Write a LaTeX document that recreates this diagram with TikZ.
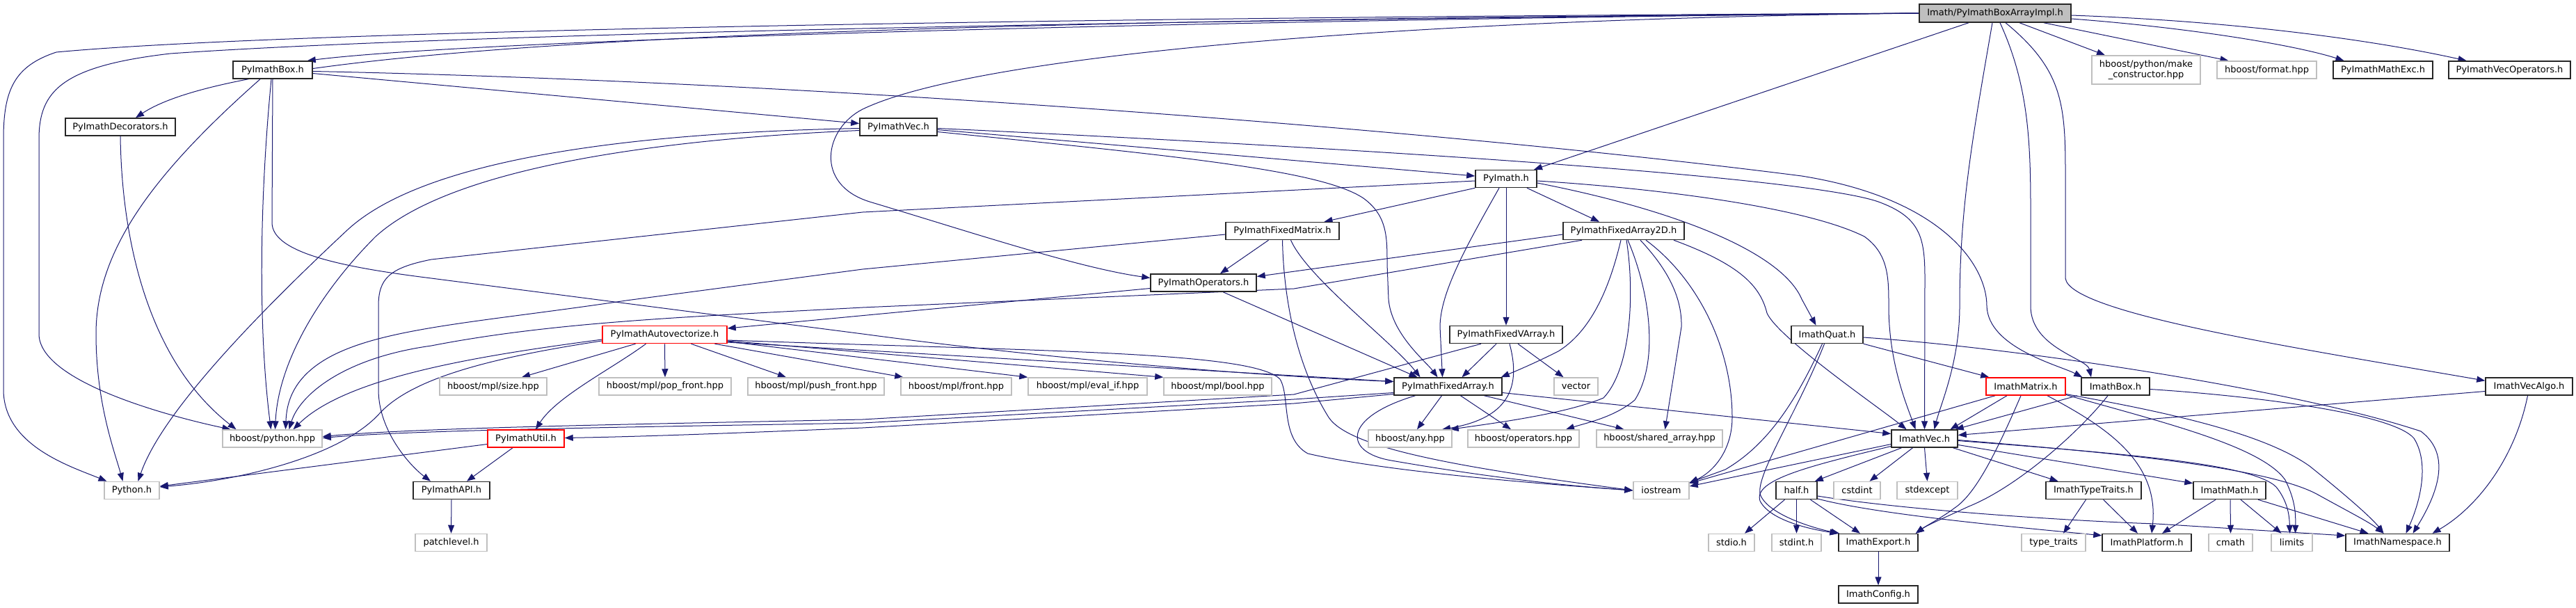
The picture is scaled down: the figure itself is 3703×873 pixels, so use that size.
\documentclass[tikz,border=0pt]{standalone}
\usepackage{fontspec}
\setmainfont{DejaVu Sans}
\usetikzlibrary{arrows.meta}
\definecolor{edgec}{HTML}{191970}
\definecolor{greyb}{HTML}{BFBFBF}
\newcommand\nodefont{\fontsize{13}{14.5}\selectfont}
\pgfdeclarelayer{bg}
\pgfsetlayers{bg,main}
\tikzset{
  nd/.style={rectangle, line width=1.5pt, minimum height=25pt, inner sep=0pt, fill=white, font=\nodefont, text=black},
  nb/.style={nd, draw=black!85},
  ng/.style={nd, draw=greyb},
  nr/.style={nd, draw=red},
  rt/.style={nd, draw=black!85, fill=greyb},
  dep/.style={draw=edgec, line width=1pt, -{Triangle[length=12pt,width=9pt]}},
}
\begin{document}
\begin{tikzpicture}[x=1pt,y=-1pt]
\useasboundingbox (0,0) rectangle (3703,873);
% row 0
\node[rt, minimum width=218pt, minimum height=26pt] (root) at (2868,19) {Imath/PyImathBoxArrayImpl.h};
% row 1
\node[nb, minimum width=114pt] (pbox) at (392,100.5) {PyImathBox.h};
\node[ng, minimum width=156pt, minimum height=41pt, align=center] (mkc) at (3085,100.5) {hboost/python/make\\\_constructor.hpp};
\node[ng, minimum width=143pt] (fmt) at (3258.5,100.5) {hboost/format.hpp};
\node[nb, minimum width=143pt] (mexc) at (3425.5,100.5) {PyImathMathExc.h};
\node[nb, minimum width=175pt] (vecop) at (3607.5,100.5) {PyImathVecOperators.h};
% row 2
\node[nb, minimum width=158pt] (deco) at (173,182.5) {PyImathDecorators.h};
\node[nb, minimum width=111pt] (pvec) at (1291.5,182.5) {PyImathVec.h};
% row 3
\node[nb, minimum width=88pt] (pyim) at (2165,257) {PyImath.h};
% row 4
\node[nb, minimum width=163pt] (fmat) at (1843.5,332) {PyImathFixedMatrix.h};
\node[nb, minimum width=174pt] (f2d) at (2334,332) {PyImathFixedArray2D.h};
% row 5
\node[nb, minimum width=152pt] (oper) at (1730,406.5) {PyImathOperators.h};
% row 6
\node[nr, minimum width=179pt] (auto) at (955.5,481) {PyImathAutovectorize.h};
\node[nb, minimum width=162pt] (fva) at (2165,481) {PyImathFixedVArray.h};
\node[nb, minimum width=103pt] (quat) at (2626.5,481) {ImathQuat.h};
% row 7
\node[ng, minimum width=154pt] (size) at (709,555.5) {hboost/mpl/size.hpp};
\node[ng, minimum width=190pt] (popf) at (956,555.5) {hboost/mpl/pop\_front.hpp};
\node[ng, minimum width=196pt] (pushf) at (1173,555.5) {hboost/mpl/push\_front.hpp};
\node[ng, minimum width=159pt] (front) at (1374.5,555.5) {hboost/mpl/front.hpp};
\node[ng, minimum width=171pt] (evalif) at (1563.5,555.5) {hboost/mpl/eval\_if.hpp};
\node[ng, minimum width=155pt] (bool) at (1750.5,555.5) {hboost/mpl/bool.hpp};
\node[nb, minimum width=155pt] (farr) at (2081.5,555.5) {PyImathFixedArray.h};
\node[ng, minimum width=63pt] (vector) at (2265.5,555.5) {vector};
\node[nr, minimum width=114pt] (imat) at (2912,555.5) {ImathMatrix.h};
\node[nb, minimum width=98pt] (ibox) at (3041,555.5) {ImathBox.h};
\node[nb, minimum width=125pt] (valgo) at (3635.5,555.5) {ImathVecAlgo.h};
% row 8
\node[ng, minimum width=143pt] (pyhpp) at (391.5,630.5) {hboost/python.hpp};
\node[nr, minimum width=110pt] (util) at (756,630.5) {PyImathUtil.h};
\node[ng, minimum width=120pt] (any) at (2027,630.5) {hboost/any.hpp};
\node[ng, minimum width=160pt] (ops) at (2190,630.5) {hboost/operators.hpp};
\node[ng, minimum width=181pt] (shar) at (2385.5,630.5) {hboost/shared\_array.hpp};
\node[nb, minimum width=95pt] (ivec) at (2766.5,630.5) {ImathVec.h};
% row 9
\node[ng, minimum width=79pt] (pyh) at (189.5,705) {Python.h};
\node[nb, minimum width=110pt] (api) at (649,705) {PyImathAPI.h};
\node[ng, minimum width=80pt] (iost) at (2388,705) {iostream};
\node[nb, minimum width=59pt] (half) at (2582.5,705) {half.h};
\node[ng, minimum width=67pt] (cstd) at (2669.5,705) {cstdint};
\node[ng, minimum width=87pt] (stdex) at (2770.5,705) {stdexcept};
\node[nb, minimum width=137pt] (ttr) at (3009.5,705) {ImathTypeTraits.h};
\node[nb, minimum width=104pt] (imath) at (3205,705) {ImathMath.h};
% row 10
\node[ng, minimum width=103pt] (patch) at (648.5,780) {patchlevel.h};
\node[ng, minimum width=66pt] (stdio) at (2489,780) {stdio.h};
\node[ng, minimum width=71pt] (stdint) at (2582.5,780) {stdint.h};
\node[nb, minimum width=114pt] (exp) at (2700,780) {ImathExport.h};
\node[ng, minimum width=92pt] (tt) at (2952,780) {type\_traits};
\node[nb, minimum width=128pt] (plat) at (3086,780) {ImathPlatform.h};
\node[ng, minimum width=63pt] (cmath) at (3206.5,780) {cmath};
\node[ng, minimum width=59pt] (limits) at (3294.5,780) {limits};
\node[nb, minimum width=149pt] (ns) at (3446.5,780) {ImathNamespace.h};
% row 11
\node[nb, minimum width=114pt] (conf) at (2700,854.5) {ImathConfig.h};

\begin{pgfonlayer}{bg}
% root
\draw[dep] (root.west) .. controls (1800,28) and (700,55) .. ([xshift=-8pt]pbox.north east);
\draw[dep] (root.west) .. controls (1200,30) and (360,60) .. ([xshift=22pt]deco.north);
\draw[dep] (root.west) .. controls (1500,30) and (600,52) .. (245,77) .. controls (90,95) and (56,130) .. (56,200) -- (56,480) .. controls (56,550) and (250,600) .. ([xshift=-60pt]pyhpp.north);
\draw[dep] (root.west) .. controls (1500,25) and (400,45) .. (81,75) .. controls (20,95) and (5,130) .. (5,200) -- (5,560) .. controls (5,640) and (100,670) .. ([xshift=-36pt]pyh.north);
\draw[dep] (root.west) .. controls (2000,28) and (1400,80) .. (1240,157) .. controls (1185,185) and (1170,265) .. (1250,290) .. controls (1400,335) and (1550,385) .. ([yshift=7pt]oper.west);
\draw[dep] ([xshift=-38pt]root.south) -- ([xshift=40pt]pyim.north);
\draw[dep] ([xshift=-4pt]root.south) .. controls (2835,200) and (2817,300) .. (2817,440) .. controls (2817,520) and (2790,580) .. ([xshift=14pt]ivec.north);
\draw[dep] ([xshift=7pt]root.south) .. controls (2915,120) and (2919,200) .. (2919,300) -- (2919,440) .. controls (2919,500) and (3000,515) .. ([xshift=-35pt]ibox.north);
\draw[dep] ([xshift=15pt]root.south) .. controls (2965,100) and (2969,150) .. (2969,250) -- (2969,400) .. controls (2975,450) and (3300,500) .. ([yshift=-5pt]valgo.north west);
\draw[dep] ([xshift=35pt]root.south) -- ([xshift=-59pt]mkc.north);
\draw[dep] ([xshift=70pt]root.south) -- ([xshift=-55pt]fmt.north);
\draw[dep] ([yshift=-8pt]root.east) .. controls (3150,40) and (3300,65) .. ([xshift=-56pt]mexc.north);
\draw[dep] ([yshift=-3pt]root.east) .. controls (3200,30) and (3400,55) .. ([xshift=-62pt]vecop.north);
% PyImathBox
\draw[dep] ([yshift=-5pt]pbox.east) -- ([yshift=5pt]pvec.west);
\draw[dep] ([yshift=-2pt]pbox.east) .. controls (1200,118) and (2100,190) .. (2590,253) .. controls (2790,285) and (2856,380) .. (2856,440) .. controls (2858,500) and (2960,525) .. ([xshift=2pt]ibox.north west);
\draw[dep] (pbox.south) -- (391,320) .. controls (391,365) and (500,385) .. (620,400) -- (1240,480) .. controls (1500,515) and (1800,540) .. ([yshift=7pt]farr.west);
\draw[dep] ([xshift=-2pt]pbox.south) .. controls (372,300) and (372,480) .. ([xshift=-2pt]pyhpp.north);
\draw[dep] ([xshift=-18pt]pbox.south) .. controls (220,250) and (138,360) .. (138,480) .. controls (138,580) and (165,650) .. ([xshift=-13pt]pyh.north);
% Decorators
\draw[dep] (deco.south) .. controls (175,350) and (215,520) .. ([xshift=-52pt]pyhpp.north);
% PyImathVec
\draw[dep] ([yshift=-4pt]pvec.east) -- ([yshift=4pt]pyim.west);
\draw[dep] ([yshift=-2pt]pvec.east) .. controls (2000,215) and (2600,255) .. (2700,290) .. controls (2760,312) and (2767,340) .. (2767,400) -- (ivec.north);
\draw[dep] ([yshift=-7pt]pvec.east) .. controls (1700,225) and (1900,245) .. (1960,285) .. controls (1994,310) and (1994,340) .. (1994,380) -- (1996,430) .. controls (2000,480) and (2050,520) .. ([xshift=-15pt]farr.north);
\draw[dep] ([yshift=-5pt]pvec.west) .. controls (950,200) and (650,240) .. (540,340) .. controls (460,420) and (400,520) .. ([xshift=4pt]pyhpp.north);
\draw[dep] ([yshift=-2pt]pvec.west) .. controls (950,190) and (620,220) .. (500,330) .. controls (350,470) and (230,600) .. ([xshift=9pt]pyh.north);
% PyImath
\draw[dep] ([yshift=-3pt]pyim.west) -- (1240,305) -- (620,373) .. controls (560,385) and (544,400) .. (544,440) -- (544,560) .. controls (544,620) and (590,670) .. ([xshift=-30pt]api.north);
\draw[dep] (pyim.south west) -- ([xshift=60pt]fmat.north);
\draw[dep] (pyim.south) -- (fva.north);
\draw[dep] ([xshift=-10pt]pyim.south) .. controls (2110,350) and (2070,420) .. (2070,470) -- ([xshift=-8pt]farr.north);
\draw[dep] ([xshift=30pt]pyim.south) -- ([xshift=-35pt]f2d.north);
\draw[dep] ([yshift=-3pt]pyim.east) .. controls (2400,272) and (2600,300) .. (2680,340) .. controls (2715,365) and (2715,400) .. (2715,440) .. controls (2715,520) and (2740,580) .. ([xshift=-13pt]ivec.north);
\draw[dep] ([yshift=-6pt]pyim.east) .. controls (2400,300) and (2560,360) .. (2590,430) -- ([xshift=-16pt]quat.north);
% FixedMatrix
\draw[dep] ([xshift=-20pt]fmat.south) -- ([xshift=24pt]oper.north);
\draw[dep] ([yshift=-5pt]fmat.west) -- (1240,387) -- (900,432) .. controls (700,462) and (560,470) .. (480,510) .. controls (420,540) and (412,580) .. ([xshift=19pt]pyhpp.north);
\draw[dep] ([xshift=12pt]fmat.south) .. controls (1880,400) and (2000,490) .. ([xshift=-40pt]farr.north);
\draw[dep] (fmat.south) .. controls (1845,420) and (1860,520) .. (1910,600) .. controls (1940,645) and (2100,672) .. (iost.west);
% Operators
\draw[dep] ([yshift=-8pt]oper.west) -- ([yshift=9pt]auto.east);
\draw[dep] ([xshift=28pt]oper.south) -- ([xshift=-44pt]farr.north);
% FixedArray2D
\draw[dep] ([yshift=-5pt]f2d.west) -- ([yshift=9pt]oper.east);
\draw[dep] ([xshift=-60pt]f2d.south) -- (1860,415) -- (1240,442) .. controls (1000,455) and (800,462) .. (620,497) .. controls (490,515) and (430,570) .. ([xshift=24pt]pyhpp.north);
\draw[dep] ([xshift=-4pt]f2d.south) .. controls (2310,430) and (2280,480) .. (2240,505) .. controls (2200,525) and (2175,535) .. ([xshift=-2pt]farr.north east);
\draw[dep] ([xshift=4pt]f2d.south) .. controls (2350,420) and (2345,530) .. (2305,572) .. controls (2250,595) and (2150,608) .. ([xshift=-3pt]any.north east);
\draw[dep] ([xshift=6pt]f2d.south) .. controls (2372,420) and (2385,520) .. (2350,575) .. controls (2320,600) and (2280,608) .. ([xshift=61pt]ops.north);
\draw[dep] ([xshift=24pt]f2d.south) .. controls (2400,390) and (2418,430) .. (2417,470) -- ([xshift=8pt]shar.north);
\draw[dep] ([xshift=32pt]f2d.south) .. controls (2440,400) and (2490,500) .. (2490,600) .. controls (2490,650) and (2460,680) .. ([yshift=-2pt]iost.north east);
\draw[dep] ([xshift=72pt]f2d.south) .. controls (2500,380) and (2530,410) .. (2540,450) .. controls (2555,485) and (2700,585) .. ([xshift=-26pt]ivec.north);
% FixedVArray
\draw[dep] ([xshift=17pt]fva.south) -- ([xshift=-18pt]vector.north);
\draw[dep] ([xshift=-14pt]fva.south) -- ([xshift=20pt]farr.north);
\draw[dep] ([xshift=5pt]fva.south) .. controls (2185,550) and (2175,600) .. ([xshift=46pt]any.north);
\draw[dep] ([xshift=-36pt]fva.south) -- (1860,567) -- (1240,603) .. controls (900,610) and (600,615) .. ([yshift=3pt]pyhpp.east);
% FixedArray
\draw[dep] ([xshift=-9pt]farr.south) -- ([xshift=10pt]any.north);
\draw[dep] ([xshift=18pt]farr.south) -- ([xshift=-18pt]ops.north);
\draw[dep] ([xshift=52pt]farr.south) -- ([xshift=-51pt]shar.north);
\draw[dep] ([xshift=-47pt]farr.south) .. controls (1930,600) and (1930,650) .. (2000,662) .. controls (2150,688) and (2250,698) .. (iost.west);
\draw[dep] ([yshift=-9pt]farr.east) -- ([yshift=7pt]ivec.west);
\draw[dep] ([yshift=-9pt]farr.west) -- (1860,574) -- (1240,608) .. controls (900,614) and (600,618) .. ([yshift=1pt]pyhpp.east);
\draw[dep] ([yshift=-11pt]farr.west) -- (1860,580) -- (1240,615) .. controls (1000,625) and (900,628) .. ([yshift=1pt]util.east);
% Autovectorize
\draw[dep] ([xshift=-42pt]auto.south) -- ([xshift=41pt]size.north);
\draw[dep] (auto.south) -- (popf.north);
\draw[dep] ([xshift=38pt]auto.south) -- ([xshift=-43pt]pushf.north);
\draw[dep] ([xshift=72pt]auto.south) -- ([xshift=4pt]front.north west);
\draw[dep] ([yshift=-10pt]auto.east) -- (evalif.north west);
\draw[dep] ([yshift=-9pt]auto.east) -- (bool.north west);
\draw[dep] ([yshift=-11pt]auto.east) -- ([yshift=7pt]farr.west);
\draw[dep] ([yshift=-8pt]auto.east) .. controls (1500,505) and (1800,505) .. (1840,545) .. controls (1855,570) and (1840,630) .. (1880,652) .. controls (2000,680) and (2250,698) .. (iost.west);
\draw[dep] ([xshift=-27pt]auto.south) .. controls (880,530) and (800,570) .. ([xshift=14pt]util.north);
\draw[dep] ([yshift=-7pt]auto.west) .. controls (700,510) and (500,540) .. ([xshift=30pt]pyhpp.north);
\draw[dep] ([yshift=-9pt]auto.west) .. controls (700,515) and (590,545) .. (545,595) .. controls (490,655) and (350,690) .. ([yshift=5pt]pyh.east);
% Util, API
\draw[dep] ([yshift=-8pt]util.west) -- ([yshift=6pt]pyh.east);
\draw[dep] ([xshift=-19pt]util.south) -- ([xshift=22pt]api.north);
\draw[dep] (api.south) -- (patch.north);
% Quat
\draw[dep] (quat.south east) -- ([xshift=5pt]imat.north west);
\draw[dep] ([yshift=-4pt]quat.east) .. controls (2900,500) and (3300,560) .. (3480,620) .. controls (3520,650) and (3510,700) .. ([xshift=22pt]ns.north);
\draw[dep] ([xshift=-7pt]quat.south) .. controls (2580,580) and (2540,640) .. (2480,675) -- ([yshift=-2pt]iost.north east);
\draw[dep] ([xshift=-4pt]quat.south) .. controls (2585,590) and (2525,680) .. (2530,710) .. controls (2540,740) and (2610,760) .. ([xshift=2pt]exp.north west);
% Matrix
\draw[dep] ([xshift=-27pt]imat.south) -- ([xshift=37pt]ivec.north);
\draw[dep] ([xshift=-44pt]imat.south) -- ([yshift=-3pt]iost.north east);
\draw[dep] ([xshift=-7pt]imat.south) .. controls (2870,650) and (2840,710) .. (2810,730) .. controls (2790,745) and (2770,755) .. ([xshift=-4pt]exp.north east);
\draw[dep] ([xshift=31pt]imat.south) .. controls (3020,610) and (3105,660) .. ([xshift=7pt]plat.north);
\draw[dep] ([yshift=-11pt]imat.east) .. controls (3100,590) and (3250,620) .. (3320,670) .. controls (3370,710) and (3410,745) .. ([xshift=-20pt]ns.north);
\draw[dep] ([yshift=-12pt]imat.east) .. controls (3100,605) and (3250,640) .. (3285,690) .. controls (3300,720) and (3300,740) .. ([xshift=5pt]limits.north);
% Box
\draw[dep] ([xshift=-55pt]ibox.south) -- ([xshift=-4pt]ivec.north east);
\draw[dep] ([xshift=-11pt]ibox.south) .. controls (2990,620) and (2900,700) .. (2830,728) .. controls (2800,742) and (2770,755) .. ([xshift=-4pt]exp.north east);
\draw[dep] ([yshift=-4pt]ibox.east) .. controls (3250,570) and (3440,595) .. (3470,630) .. controls (3495,670) and (3475,730) .. ([xshift=12pt]ns.north);
% VecAlgo
\draw[dep] ([yshift=-7pt]valgo.west) -- ([yshift=5pt]ivec.east);
\draw[dep] ([xshift=-2pt]valgo.south) .. controls (3615,660) and (3560,730) .. ([xshift=50pt]ns.north);
% ImathVec
\draw[dep] ([xshift=-33pt]ivec.south) -- ([xshift=-4pt]half.north east);
\draw[dep] ([xshift=-17pt]ivec.south) -- ([xshift=18pt]cstd.north);
\draw[dep] (ivec.south) -- (stdex.north);
\draw[dep] ([xshift=41pt]ivec.south) -- ([xshift=-51pt]ttr.north);
\draw[dep] ([yshift=-9pt]ivec.east) -- ([yshift=-3pt]imath.north west);
\draw[dep] ([yshift=-2pt]ivec.east) .. controls (3000,648) and (3250,668) .. (3330,710) .. controls (3375,735) and (3405,750) .. ([xshift=-20pt]ns.north);
\draw[dep] ([yshift=-3pt]ivec.east) .. controls (3050,652) and (3238,666) .. (3272,700) .. controls (3288,720) and (3291,740) .. ([xshift=-3pt]limits.north);
\draw[dep] ([yshift=-8pt]ivec.west) -- ([yshift=6pt]iost.east);
\draw[dep] ([yshift=-11pt]ivec.west) .. controls (2600,670) and (2520,690) .. (2530,720) .. controls (2545,750) and (2610,762) .. (exp.north west);
% half
\draw[dep] ([xshift=-17pt]half.south) -- ([xshift=19pt]stdio.north);
\draw[dep] (half.south) -- (stdint.north);
\draw[dep] ([xshift=20pt]half.south) -- ([xshift=-26pt]exp.north);
\draw[dep] ([yshift=-12pt]half.east) .. controls (2700,740) and (2900,758) .. ([yshift=-3pt]plat.north west);
\draw[dep] ([yshift=-8pt]half.east) .. controls (2750,735) and (3000,750) .. (3100,753) -- ([yshift=10pt]ns.west);
% TypeTraits
\draw[dep] ([xshift=-11pt]ttr.south) -- ([xshift=14pt]tt.north);
\draw[dep] ([xshift=14pt]ttr.south) -- ([xshift=-13pt]plat.north);
% ImathMath
\draw[dep] ([xshift=-20pt]imath.south) -- ([xshift=22pt]plat.north);
\draw[dep] ([xshift=1pt]imath.south) -- (cmath.north);
\draw[dep] ([xshift=16pt]imath.south) -- ([xshift=-15pt]limits.north);
\draw[dep] ([xshift=41pt]imath.south) -- ([xshift=-42pt]ns.north);
% Export
\draw[dep] (exp.south) -- (conf.north);
\end{pgfonlayer}
\end{tikzpicture}
\end{document}
